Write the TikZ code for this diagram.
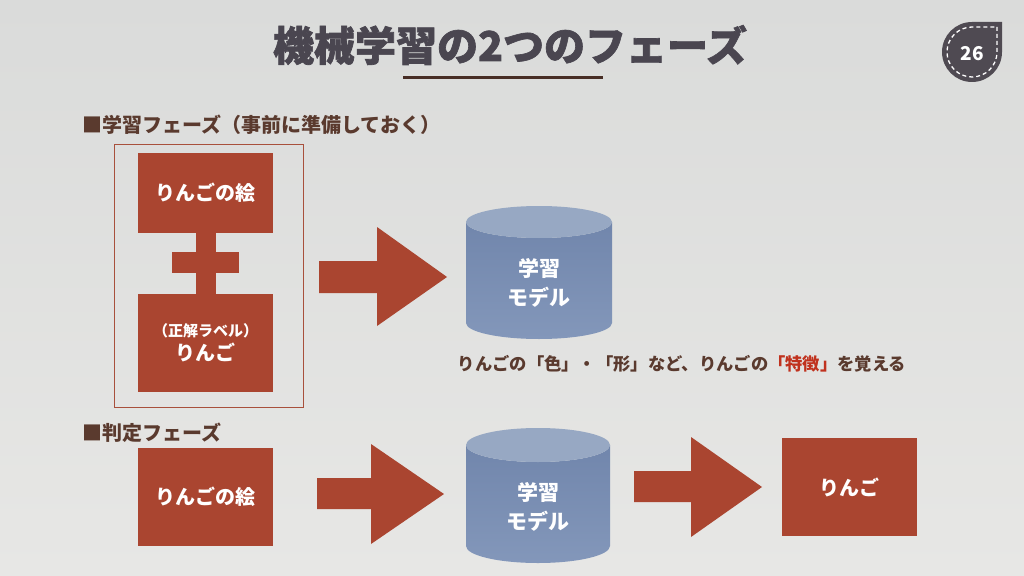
\documentclass[tikz,border=0pt]{standalone}
\usepackage{fontspec}
\setmainfont{Noto Sans CJK JP}
\newfontfamily\titlefont{Noto Sans CJK JP}[BoldFeatures={FakeBold=1.6}]
\usetikzlibrary{positioning}
\definecolor{bgtop}{HTML}{DADBDA}
\definecolor{bgbot}{HTML}{E7E7E5}
\definecolor{boxred}{HTML}{AA4530}
\definecolor{titlegray}{HTML}{4A4650}
\definecolor{headbrown}{HTML}{5A3A2E}
\definecolor{hired}{HTML}{C0321E}
\definecolor{cylbody}{HTML}{7186AC}
\definecolor{cylbodylo}{HTML}{8397BA}
\definecolor{cyltop}{HTML}{97A8C3}
\definecolor{badge}{HTML}{4F4A52}
\definecolor{outline}{HTML}{A8503C}
\tikzset{
  redbox/.style={fill=boxred, text=white, font=\bfseries\fontsize{20}{24}\selectfont, inner sep=0pt, align=center},
  cyltext/.style={text=white, font=\bfseries\fontsize{21}{29}\selectfont, align=center},
  header/.style={text=headbrown, font=\bfseries\fontsize{20}{24}\selectfont, anchor=west, inner sep=0pt},
  blockarrow/.style={fill=boxred},
}
\begin{document}
\begin{tikzpicture}[x=1pt,y=-1pt]
\useasboundingbox (0,0) rectangle (1024,575);
\shade[top color=bgtop, bottom color=bgbot] (0,0) rectangle (1024,575);

% title
\node[text=titlegray, font=\titlefont\bfseries\fontsize{41}{44}\selectfont, inner sep=0pt] (title) at (510,45) {機械学習の2つのフェーズ};
\draw[line width=3pt, color=headbrown!80!black] (403,78) -- (603,78);

% badge
\fill[badge] (1002,22) [rounded corners=30pt] -- (1002,82) -- (942,82) -- (942,22) [sharp corners] -- cycle;
\draw[white, line width=1.3pt, dash pattern=on 4pt off 3pt] (997,27) [rounded corners=25pt] -- (997,77) -- (947,77) -- (947,27) [sharp corners] -- cycle;
\node[text=white, font=\bfseries\fontsize{19}{20}\selectfont, inner sep=0pt] (pagenum) at (972,54) {26};

% learning phase
\node[header] (h1) at (82,125) {■学習フェーズ（事前に準備しておく）};
\draw[outline, line width=1pt] (114,144) rectangle (303,407);
\node[redbox, minimum width=135pt, minimum height=80pt] (pic1) at (205.5,193) {りんごの絵};
\node[redbox, minimum width=135pt, minimum height=98pt] (label1) at (205.5,343) {{\fontsize{15}{20}\selectfont （正解ラベル）}\\りんご};
\draw[boxred, line width=20pt] (pic1.south) -- (label1.north);
\fill[boxred] (172,252) rectangle (239,273);

\fill[blockarrow] (319,261) -- (377,261) -- (377,227) -- (447,277) -- (377,326) -- (377,293) -- (319,293) -- cycle;

% cylinder 1
\shade[top color=cylbody, bottom color=cylbodylo] (466,222) -- (466,323) arc[start angle=180, end angle=360, x radius=73pt, y radius=16pt] -- (612,222) arc[start angle=0, end angle=-180, x radius=73pt, y radius=16pt] -- cycle;
\fill[cyltop] (539,222) ellipse [x radius=73pt, y radius=16pt];
\node[cyltext] (model1) at (539,283) {学習\\モデル};

\node[text=headbrown, font=\bfseries\fontsize{17.3}{22}\selectfont, inner sep=0pt] (caption) at (682,364) {りんごの「色」・「形」など、りんごの\textcolor{hired}{「特徴」}を覚える};

% judgement phase
\node[header] (h2) at (82,433) {■判定フェーズ};
\node[redbox, minimum width=135pt, minimum height=98pt] (pic2) at (205.5,497) {りんごの絵};
\fill[blockarrow] (317,478) -- (371,478) -- (371,444) -- (444,494) -- (371,544) -- (371,509) -- (317,509) -- cycle;

\shade[top color=cylbody, bottom color=cylbodylo] (466,445) -- (466,546) arc[start angle=180, end angle=360, x radius=72pt, y radius=17pt] -- (610,445) arc[start angle=0, end angle=-180, x radius=72pt, y radius=17pt] -- cycle;
\fill[cyltop] (538,445) ellipse [x radius=72pt, y radius=17pt];
\node[cyltext] (model2) at (538,507) {学習\\モデル};

\fill[blockarrow] (634,471) -- (691,471) -- (691,437) -- (762,487) -- (691,537) -- (691,502) -- (634,502) -- cycle;
\node[redbox, minimum width=135pt, minimum height=98pt] (result) at (849.5,487) {りんご};
\end{tikzpicture}
\end{document}
